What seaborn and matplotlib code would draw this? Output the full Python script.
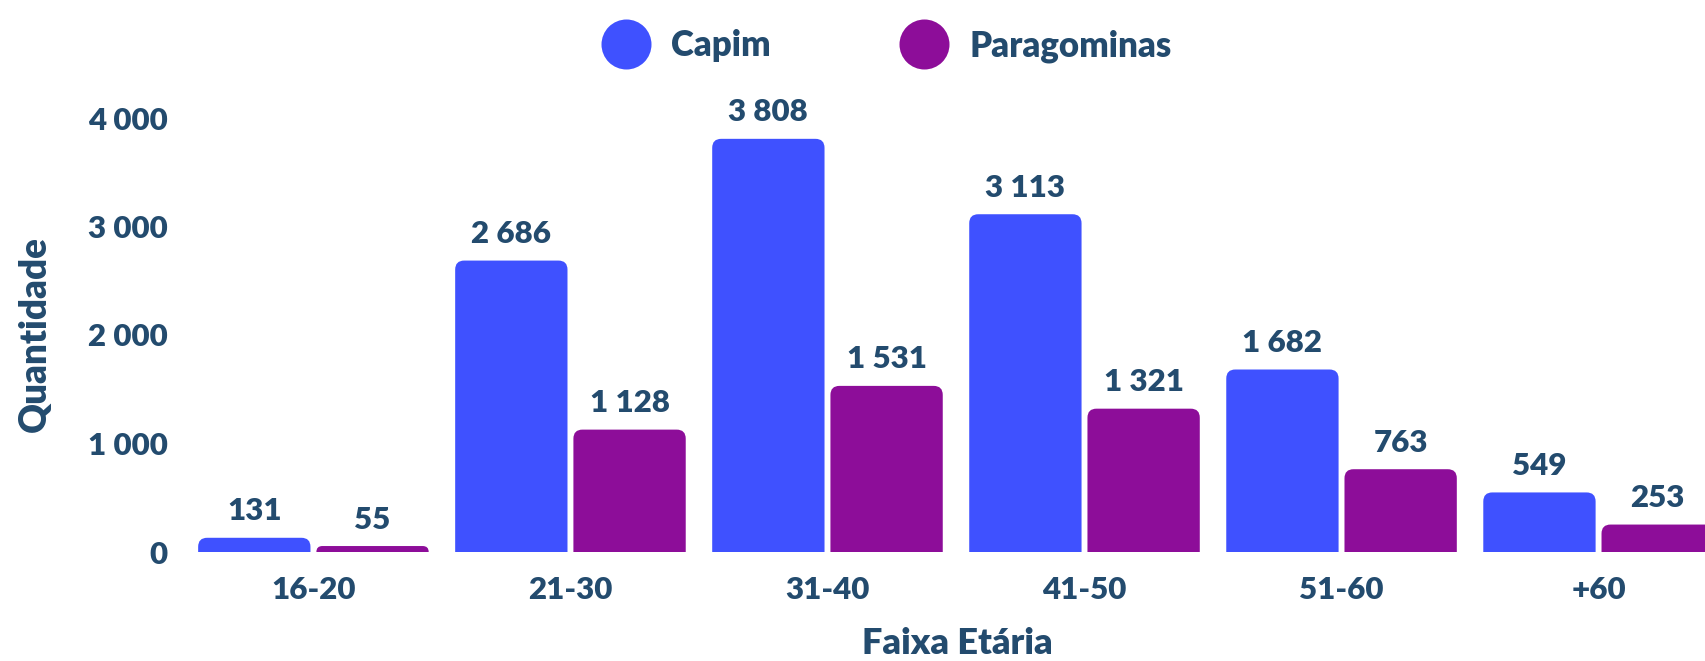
import numpy as np
import pandas as pd
import matplotlib
matplotlib.use("Agg")
import matplotlib.pyplot as plt
from matplotlib.patches import FancyBboxPatch
from matplotlib.lines import Line2D
import seaborn as sns

# ---- data ----
categories = ["16-20", "21-30", "31-40", "41-50", "51-60", "+60"]
capim = [131, 2686, 3808, 3113, 1682, 549]
paragominas = [55, 1128, 1531, 1321, 763, 253]
series_names = ["Capim", "Paragominas"]
yticks = [0, 1000, 2000, 3000, 4000]

# ---- style ----
BLUE = "#3F51FF"
PURPLE = "#8D0D99"
TXT = "#234B6E"
WEIGHT = "heavy"

sns.set_theme(style="white")
plt.rcParams["font.family"] = ["Lato", "DejaVu Sans"]
plt.rcParams["font.weight"] = WEIGHT

def fmt(v):
    return f"{int(v):,}".replace(",", " ")

df = pd.DataFrame({
    "Faixa": categories * 2,
    "Quantidade": capim + paragominas,
    "Municipio": [series_names[0]] * len(capim) + [series_names[1]] * len(paragominas),
})

W, H = 1706, 661
fig = plt.figure(figsize=(W / 100, H / 100), dpi=100)
ax_left, ax_bottom_px, ax_top_px = 170, 552, 96.3
ax = fig.add_axes([ax_left / W, (H - ax_bottom_px) / H, (W - ax_left) / W, (ax_bottom_px - ax_top_px) / H])

sns.barplot(data=df, x="Faixa", y="Quantidade", hue="Municipio",
            palette=[BLUE, PURPLE], width=0.92, gap=0.05, saturation=1,
            linewidth=0, legend=False, ax=ax)

ax.set_xlim(-0.558, 5.418)
ax.set_ylim(0, 4200)

for c in ax.containers:
    ax.bar_label(c, labels=[fmt(v) for v in c.datavalues], padding=9.0,
                 fontsize=22.5, color=TXT, fontweight=WEIGHT)

# rounded top corners
fig.canvas.draw()
p0 = ax.transData.transform((0, 0))
p1 = ax.transData.transform((1, 1))
px_per_x = p1[0] - p0[0]
px_per_y = p1[1] - p0[1]
aspect = px_per_x / px_per_y
for p in list(ax.patches):
    x, w, h = p.get_x(), p.get_width(), p.get_height()
    fc = p.get_facecolor()
    h_px = h * px_per_y
    r_px = min(9.0, h_px)
    r_x = r_px / px_per_x
    r_y = r_px / px_per_y
    p.remove()
    rb = FancyBboxPatch((x, -r_y), w, h + r_y,
                        boxstyle=f"round,pad=0,rounding_size={r_x}",
                        mutation_aspect=aspect, fc=fc, ec="none", lw=0)
    ax.add_patch(rb)

for s in ax.spines.values():
    s.set_visible(False)
ax.grid(False)
ax.set_yticks(yticks)
ax.set_yticklabels([fmt(v) for v in yticks])
ax.tick_params(axis="y", length=0, pad=1.5, labelsize=22.5, labelcolor=TXT)
ax.tick_params(axis="x", length=0, pad=17, labelsize=22.5, labelcolor=TXT)
for lab in ax.get_xticklabels() + ax.get_yticklabels():
    lab.set_fontweight(WEIGHT)

ax.set_xlabel("Faixa Etária", fontsize=26, color=TXT, fontweight=WEIGHT)
ax.xaxis.set_label_coords((957 - ax_left) / (W - ax_left), -(643 - ax_bottom_px) / (ax_bottom_px - ax_top_px))
ax.xaxis.label.set_va("center")
ax.set_ylabel("Quantidade", fontsize=26.5, color=TXT, fontweight=WEIGHT)
ax.yaxis.set_label_coords((35 - ax_left) / (W - ax_left), (ax_bottom_px - 334) / (ax_bottom_px - ax_top_px))
ax.yaxis.label.set_va("center")
ax.yaxis.label.set_ha("center")

handles = [Line2D([], [], marker="o", linestyle="", markersize=36,
                  markerfacecolor=col, markeredgewidth=0) for col in [BLUE, PURPLE]]
leg = fig.legend(handles, series_names, loc="center left",
                 bbox_to_anchor=(601 / W, 1 - 46 / H), ncol=2, frameon=False,
                 fontsize=25, handlelength=1.44, handletextpad=0.58,
                 columnspacing=3.7, borderpad=0, borderaxespad=0)
for t in leg.get_texts():
    t.set_color(TXT)
    t.set_fontweight(WEIGHT)

fig.savefig("out.png", dpi=100)
